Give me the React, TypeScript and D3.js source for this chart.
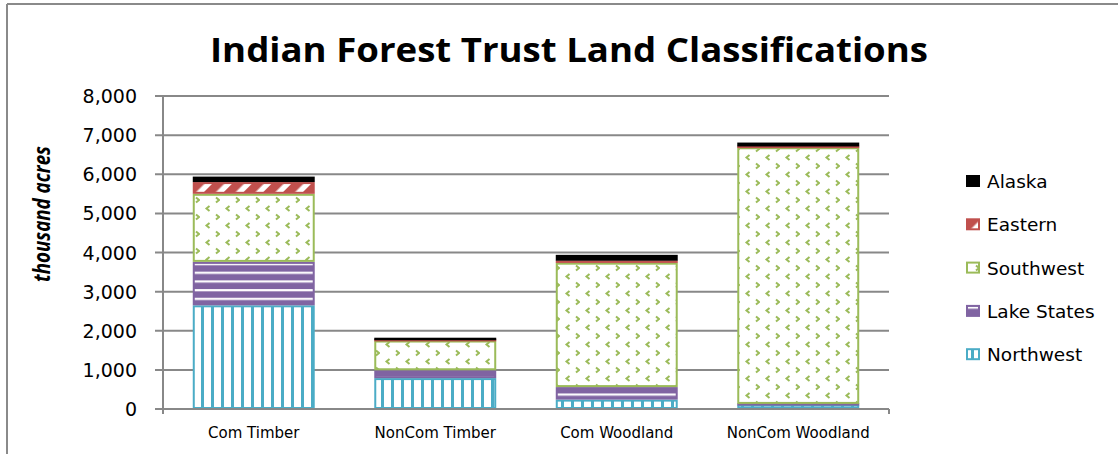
import React from 'react';
import * as d3 from 'd3';

const categories = ['Com Timber', 'NonCom Timber', 'Com Woodland', 'NonCom Woodland'];
const seriesNames = ['Northwest', 'Lake States', 'Southwest', 'Eastern', 'Alaska'];
const northwest = [2650, 790, 240, 110];
const lakeStates = [1110, 200, 320, 20];
const southwest = [1740, 760, 3180, 6560];
const eastern = [300, 20, 50, 20];
const alaska = [140, 40, 150, 100];
const yTicks = [0, 1000, 2000, 3000, 4000, 5000, 6000, 7000, 8000];
const legendOrder = ['Alaska', 'Eastern', 'Southwest', 'Lake States', 'Northwest'];

const colors: Record<string, string> = {
  Northwest: '#4BACC6',
  'Lake States': '#8064A2',
  Southwest: '#9BBB59',
  Eastern: '#C0504D',
  Alaska: '#000000',
};
const patternId: Record<string, string> = {
  Northwest: 'p-nw',
  'Lake States': 'p-ls',
  Southwest: 'p-sw',
  Eastern: 'p-ea',
  Alaska: 'p-ak',
};

const W = 1118;
const H = 454;
const plot = { left: 163, right: 889, top: 96, bottom: 409 };

export default function App() {
  const seriesValues = [northwest, lakeStates, southwest, eastern, alaska];
  const table = categories.map((c, i) => {
    const row: any = { category: c };
    seriesNames.forEach((s, j) => (row[s] = seriesValues[j][i]));
    return row;
  });
  const stacked = d3.stack<any>().keys(seriesNames)(table);

  const x = d3
    .scaleBand<string>()
    .domain(categories)
    .range([plot.left, plot.right])
    .paddingInner(0.328)
    .paddingOuter(0.164);
  const y = d3.scaleLinear().domain([0, 8000]).range([plot.bottom, plot.top]);
  const fmt = d3.format(',');
  const grid = '#888888';

  return (
    <svg width={W} height={H} style={{ position: 'absolute', left: 0, top: 0, background: '#fff' }}>
      <defs>
        <pattern id="p-nw" patternUnits="userSpaceOnUse" width={10} height={10}>
          <rect width={10} height={10} fill="#fff" />
          <rect x={1} width={3} height={10} fill={colors.Northwest} />
        </pattern>
        <pattern id="p-ls" patternUnits="userSpaceOnUse" width={10} height={8.7}>
          <rect width={10} height={8.7} fill={colors['Lake States']} />
          <rect y={2} width={10} height={2.2} fill="#fff" />
        </pattern>
        <pattern id="p-sw" patternUnits="userSpaceOnUse" width={20} height={17}>
          <rect width={20} height={17} fill="#fff" />
          <path d="M9.5 2 L6.5 4.5 L9.5 7" fill="none" stroke={colors.Southwest} strokeWidth={2} />
          <path d="M16 10.5 L19 13 L16 15.5" fill="none" stroke={colors.Southwest} strokeWidth={2} />
        </pattern>
        <pattern id="p-ea" patternUnits="userSpaceOnUse" width={14} height={14} patternTransform="rotate(45)">
          <rect width={14} height={14} fill="#fff" />
          <rect width={8.5} height={14} fill={colors.Eastern} />
        </pattern>
        <pattern id="p-ak" patternUnits="userSpaceOnUse" width={10} height={10}>
          <rect width={10} height={10} fill="#000" />
        </pattern>
      </defs>

      {/* chart border */}
      <line x1={7} y1={4} x2={W} y2={4} stroke="#8a8a8a" strokeWidth={2} />
      <line x1={7} y1={4} x2={7} y2={H} stroke="#8a8a8a" strokeWidth={2} />

      {/* title */}
      <text
        x={569}
        y={62}
        textAnchor="middle"
        fontFamily="'Open Sans', sans-serif"
        fontWeight={700}
        fontSize={34}
        textLength={718}
        lengthAdjust="spacingAndGlyphs"
        fill="#000"
      >
        Indian Forest Trust Land Classifications
      </text>

      {/* gridlines */}
      {yTicks.map((t) => (
        <line key={'g' + t} x1={plot.left - 8} x2={plot.right} y1={y(t)} y2={y(t)} stroke={grid} strokeWidth={2} />
      ))}

      {/* bars */}
      {stacked.map((layer) => (
        <g key={layer.key}>
          {layer.map((d, i) => {
            const y0 = y(d[0]);
            const y1 = y(d[1]);
            const h = y0 - y1 - 2;
            return (
              <rect
                key={i}
                x={(x(categories[i]) as number) + 1}
                width={x.bandwidth() - 2}
                y={h > 0.5 ? y1 + 1 : (y0 + y1) / 2 - 0.25}
                height={Math.max(0.5, h)}
                fill={`url(#${patternId[layer.key]})`}
                stroke={colors[layer.key]}
                strokeWidth={2}
              />
            );
          })}
        </g>
      ))}

      {/* axes */}
      <line x1={plot.left} x2={plot.left} y1={plot.top - 1} y2={plot.bottom + 5} stroke={grid} strokeWidth={2} />
      <line x1={plot.left} x2={plot.right} y1={plot.bottom} y2={plot.bottom} stroke={grid} strokeWidth={2} />
      <line x1={plot.right} x2={plot.right} y1={plot.bottom} y2={plot.bottom + 5} stroke={grid} strokeWidth={2} />

      {/* y tick labels */}
      {yTicks.map((t) => (
        <text
          key={'t' + t}
          x={137}
          y={y(t) + 7}
          textAnchor="end"
          fontFamily="'DejaVu Sans', sans-serif"
          fontSize={19}
          fill="#000"
        >
          {fmt(t)}
        </text>
      ))}

      {/* x labels */}
      {categories.map((c) => (
        <text
          key={c}
          x={(x(c) as number) + x.bandwidth() / 2}
          y={438}
          textAnchor="middle"
          fontFamily="'DejaVu Sans', sans-serif"
          fontSize={15}
          fill="#000"
        >
          {c}
        </text>
      ))}

      {/* y title */}
      <text
        transform="translate(50,214) rotate(-90)"
        textAnchor="middle"
        fontFamily="'Open Sans', sans-serif"
        fontStyle="italic"
        fontWeight={700}
        fontSize={23}
        textLength={136}
        lengthAdjust="spacingAndGlyphs"
        fill="#000"
      >
        thousand acres
      </text>

      {/* legend */}
      {legendOrder.map((s, i) => {
        const cy = 181 + i * 43.3;
        return (
          <g key={s}>
            <rect
              x={967}
              y={cy - 5}
              width={12}
              height={10}
              fill={`url(#${patternId[s]})`}
              stroke={colors[s]}
              strokeWidth={2}
            />
            <text x={987} y={cy + 7} fontFamily="'DejaVu Sans', sans-serif" fontSize={18.5} fill="#000">
              {s}
            </text>
          </g>
        );
      })}
    </svg>
  );
}
